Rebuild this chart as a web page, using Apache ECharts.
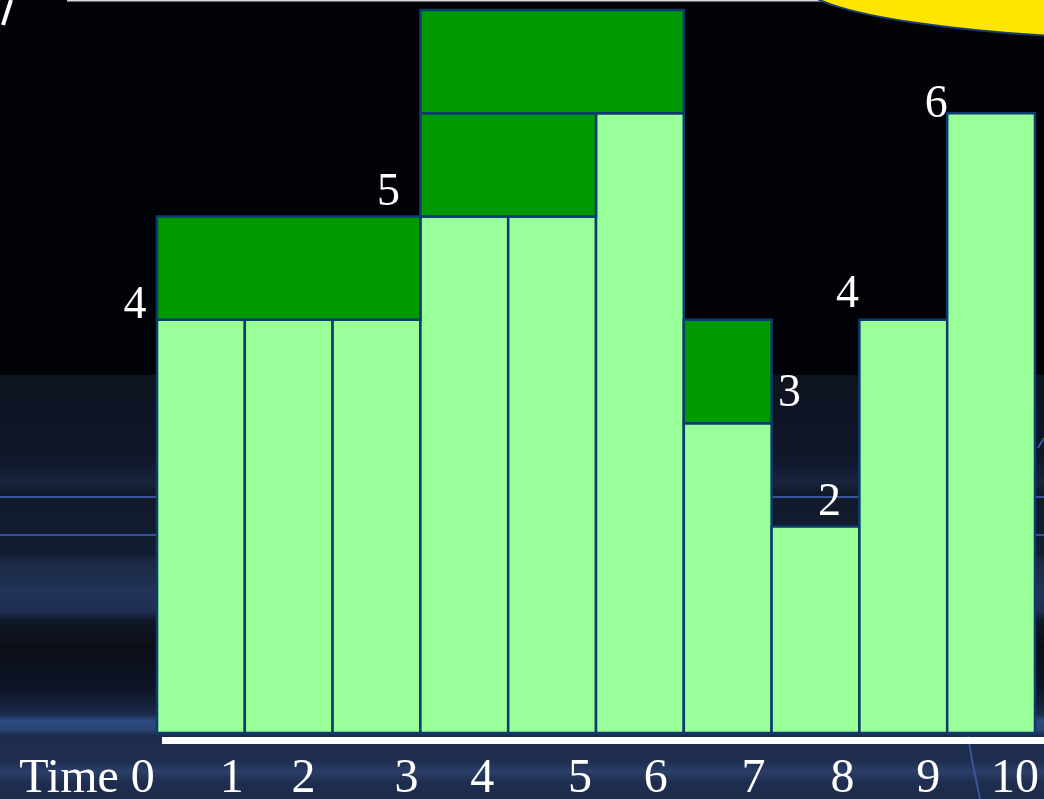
<!DOCTYPE html>
<html>
<head>
<meta charset="utf-8">
<script src="https://cdn.jsdelivr.net/npm/echarts@6.0.0/dist/echarts.min.js"></script>
<style>
  html, body { margin: 0; padding: 0; background: #020307; }
  #chart { width: 1044px; height: 799px; }
</style>
</head>
<body>
<div id="chart"></div>
<script>
// Time axis tick labels (one per time step boundary)
const timeTicks = ['Time 0', '1', '2', '3', '4', '5', '6', '7', '8', '9', '10'];
// Level served in each time slot (slot i runs from time i to i+1)
const levels = [4, 4, 4, 5, 5, 6, 3, 2, 4, 6];
// Queued work stacked above the served level: [fromTime, toTime, bottomLevel, topLevel]
const blocks = [
  [0, 3, 4, 5],
  [3, 5, 5, 6],
  [3, 6, 6, 7],
  [6, 7, 3, 4]
];
// Level callouts: [time, level]
const callouts = [[0, 4], [3, 5], [7, 3], [7.5, 2], [8, 4], [9, 6]];

// label nudges (pixels) for the tick labels and callouts
const tickShift = [-70, -13, -29, -14, -26, -16, -28, -18, -17, -19, -20];
const calloutOffset = [[-22, -14], [-32, -24], [18, -29], [14, -24], [-12, -25], [-11, -8]];

const SERIF = '"Liberation Serif", "Times New Roman", serif';
const BORDER = '#0d3b6e';

const rich = {};
tickShift.forEach((s, i) => {
  rich['t' + i] = {
    fontFamily: SERIF, fontSize: 48, color: '#ffffff',
    padding: s < 0 ? [0, -2 * s, 0, 0] : [0, 0, 0, 2 * s]
  };
});

const chart = echarts.init(document.getElementById('chart'), null, { renderer: 'canvas' });

const W = 1044, H = 799;

const option = {
  backgroundColor: '#020307',
  animation: false,
  graphic: [
    // lower navy backdrop with soft horizontal streaks
    {
      type: 'rect', z: -10, silent: true,
      shape: { x: 0, y: 375, width: W, height: H - 375 },
      style: {
        fill: {
          type: 'linear', x: 0, y: 0, x2: 0, y2: 1,
          colorStops: [
            { offset: 0.00, color: '#0e1320' },
            { offset: 0.20, color: '#10172a' },
            { offset: 0.25, color: '#18243e' },
            { offset: 0.28, color: '#111a2b' },
            { offset: 0.42, color: '#131d31' },
            { offset: 0.44, color: '#1a2842' },
            { offset: 0.52, color: '#22345a' },
            { offset: 0.56, color: '#1e2e50' },
            { offset: 0.58, color: '#111827' },
            { offset: 0.64, color: '#0a0e16' },
            { offset: 0.74, color: '#0e1526' },
            { offset: 0.80, color: '#1a2a4a' },
            { offset: 0.815, color: '#2d4a80' },
            { offset: 0.835, color: '#2a4575' },
            { offset: 0.85, color: '#1e2c4c' },
            { offset: 0.91, color: '#1f2e50' },
            { offset: 0.935, color: '#2a3e68' },
            { offset: 0.96, color: '#1f2e50' },
            { offset: 1.00, color: '#1c2a48' }
          ]
        }
      }
    },
    { type: 'rect', z: -9, silent: true, shape: { x: 0, y: 496, width: W, height: 2 }, style: { fill: '#38539a' } },
    { type: 'rect', z: -9, silent: true, shape: { x: 0, y: 534, width: W, height: 2 }, style: { fill: '#38539a' } },
    { type: 'polyline', z: -9, silent: true, shape: { points: [[968, 736], [972, 760], [980, 799]] }, style: { stroke: '#3a5599', lineWidth: 2, fill: null } },
    { type: 'line', z: -9, silent: true, shape: { x1: 1038, y1: 448, x2: 1044, y2: 438 }, style: { stroke: '#3a5599', lineWidth: 2 } },
    // white rule under the bars
    { type: 'rect', z: 5, silent: true, shape: { x: 162, y: 737, width: W - 162, height: 7 }, style: { fill: '#ffffff' } },
    // top ornaments
    { type: 'line', z: 5, silent: true, shape: { x1: 67, y1: 0.5, x2: 822, y2: 0.5 }, style: { stroke: '#d8d8d8', lineWidth: 2 } },
    { type: 'line', z: 5, silent: true, shape: { x1: 3, y1: 25, x2: 11, y2: 0 }, style: { stroke: '#ffffff', lineWidth: 4 } },
    {
      type: 'ellipse', z: 5, silent: true,
      shape: { cx: 1200, cy: -18, rx: 400, ry: 58 },
      style: { fill: '#ffe600', stroke: '#1b3d6b', lineWidth: 2 }
    }
  ],
  grid: { left: 157, right: 9, top: 10, bottom: 66, containLabel: false, outerBoundsMode: 'none' },
  xAxis: {
    type: 'value', min: 0, max: 10, interval: 1,
    axisLine: { show: false }, axisTick: { show: false }, splitLine: { show: false },
    axisLabel: {
      show: true, margin: 22, showMinLabel: true, showMaxLabel: true,
      hideOverlap: false,
      formatter: (v) => {
        const i = Math.round(v);
        return '{t' + i + '|' + timeTicks[i] + '}';
      },
      rich: rich
    }
  },
  yAxis: {
    type: 'value', min: 0, max: 7, interval: 1, show: false,
    splitLine: { show: false }
  },
  series: [
    {
      type: 'custom', name: 'served', z: 3,
      data: levels.map((v, i) => [i, v]),
      encode: { x: 0, y: 1 },
      renderItem: (params, api) => {
        const t = api.value(0), v = api.value(1);
        const p0 = api.coord([t, 0]);
        const p1 = api.coord([t + 1, v]);
        return {
          type: 'rect',
          shape: { x: p0[0], y: p1[1], width: p1[0] - p0[0], height: p0[1] - p1[1] },
          style: { fill: '#99ff99', stroke: BORDER, lineWidth: 2.5 }
        };
      }
    },
    {
      type: 'custom', name: 'queued', z: 4,
      data: blocks,
      encode: { x: [0, 1], y: [2, 3] },
      renderItem: (params, api) => {
        const a = api.coord([api.value(0), api.value(2)]);
        const b = api.coord([api.value(1), api.value(3)]);
        return {
          type: 'rect',
          shape: { x: a[0], y: b[1], width: b[0] - a[0], height: a[1] - b[1] },
          style: { fill: '#009900', stroke: BORDER, lineWidth: 2.5 }
        };
      }
    },
    {
      type: 'scatter', name: 'callouts', z: 6,
      symbolSize: 0,
      itemStyle: { opacity: 1 },
      data: callouts.map((c, i) => ({
        value: c,
        label: { offset: calloutOffset[i] }
      })),
      label: {
        show: true, position: 'inside', opacity: 1,
        formatter: (p) => String(p.value[1]),
        fontFamily: SERIF, fontSize: 46, color: '#ffffff',
        textBorderWidth: 0
      }
    }
  ]
};

chart.setOption(option);
</script>
</body>
</html>
